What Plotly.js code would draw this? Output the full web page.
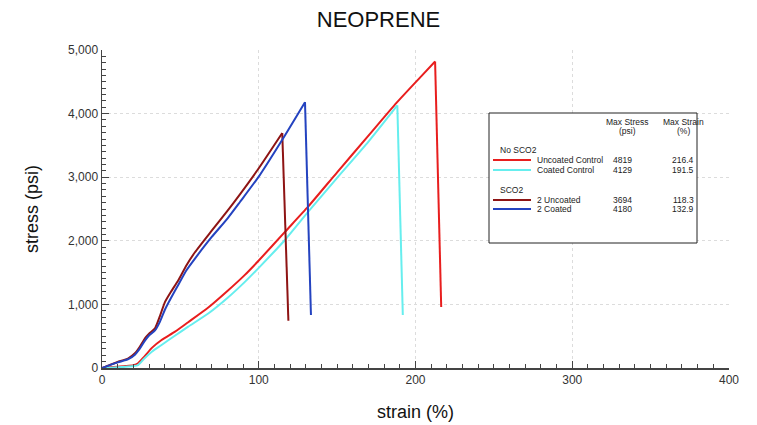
<!DOCTYPE html>
<html><head><meta charset="utf-8">
<script src="https://cdn.plot.ly/plotly-3.0.1.min.js"></script>
<style>html,body{margin:0;padding:0;background:#fff}#chart{width:757px;height:425px}</style>
</head><body><div id="chart"></div>
<script>
// Data
const seriesNames = ["Uncoated Control", "Coated Control", "2 Uncoated", "2 Coated"];
const groupNames = ["No SCO2", "SCO2"];
const maxStress = [4819, 4129, 3694, 4180];
const maxStrain = ["216.4", "191.5", "118.3", "132.9"];

const uncoatedControlStrain = [0, 5, 10, 15, 20, 23, 27, 32, 38, 46.6, 55, 67.8, 80, 91, 100, 116.7, 131.6, 150, 170, 188, 203, 212.5, 216.4];
const uncoatedControlStress = [0, 10, 20, 30, 45, 74, 180, 320, 440, 571, 720, 950, 1210, 1460, 1690, 2140, 2540, 3077, 3653, 4172, 4570, 4819, 960];

const coatedControlStrain = [0, 5, 10, 15, 20, 23, 27, 32, 38, 46, 55, 68, 80, 91, 100, 116.7, 131.6, 150, 170, 188.4, 191.9];
const coatedControlStress = [0, 5, 10, 18, 30, 47, 150, 260, 361, 500, 650, 860, 1100, 1350, 1575, 2013, 2458, 2990, 3560, 4129, 833];

const uncoated2Strain = [0, 5, 10, 16.8, 21, 24, 27.4, 30, 33.8, 37, 40.2, 44, 48.7, 54, 59.3, 70, 80, 88, 100, 115, 118.9];
const uncoated2Stress = [0, 50, 95, 152, 231, 330, 467, 540, 624, 820, 1040, 1200, 1380, 1620, 1820, 2160, 2470, 2730, 3140, 3694, 744];

const coated2Strain = [0, 5, 10, 16.8, 21, 24, 27.4, 30, 33.8, 37, 40.2, 44, 48.7, 54, 59.3, 70, 80, 88, 100, 115, 129.5, 133.3];
const coated2Stress = [0, 45, 88, 140, 210, 300, 430, 510, 590, 730, 920, 1100, 1310, 1540, 1720, 2060, 2350, 2610, 3010, 3590, 4180, 833];

const colors = ["#e81e1e", "#66eeee", "#8e1414", "#2443c0"];
const xs = [uncoatedControlStrain, coatedControlStrain, uncoated2Strain, coated2Strain];
const ys = [uncoatedControlStress, coatedControlStress, uncoated2Stress, coated2Stress];

const traces = [];
xs.forEach((x, i) => {
  const y = ys[i];
  const n = x.length;
  // rising part (smooth) up to the peak
  traces.push({x: x.slice(0, n - 1), y: y.slice(0, n - 1), type: "scatter", mode: "lines", name: seriesNames[i],
    line: {color: colors[i], width: 2, shape: "spline", smoothing: 0.6}, showlegend: false});
  // break: peak to final point
  traces.push({x: x.slice(n - 2), y: y.slice(n - 2), type: "scatter", mode: "lines", name: seriesNames[i],
    line: {color: colors[i], width: 2}, showlegend: false});
});

// custom table legend (paper coordinates)
const X0 = 102, Y0 = 368, W = 627, H = 318;
const px = v => (v - X0) / W;
const py = v => (Y0 - v) / H;
const font = {family: "Liberation Sans, Arial, sans-serif", size: 8.5, color: "#222"};
const shapes = [{type: "rect", xref: "paper", yref: "paper", x0: px(489), x1: px(697), y0: py(243), y1: py(113),
  line: {color: "#222", width: 1}, fillcolor: "#fff", layer: "above"}];
const annotations = [];
const ann = (x, y, text, xanchor) => annotations.push({xref: "paper", yref: "paper", x: px(x), y: py(y), text: text,
  showarrow: false, xanchor: xanchor, yanchor: "middle", font: font});
ann(627, 122, "Max Stress", "center");
ann(627, 131, "(psi)", "center");
ann(683, 122, "Max Strain", "center");
ann(683, 131, "(%)", "center");
ann(498, 150, groupNames[0], "left");
ann(498, 190, groupNames[1], "left");
const rowY = [160, 170, 200, 209];
rowY.forEach((y, i) => {
  shapes.push({type: "line", xref: "paper", yref: "paper", x0: px(493), x1: px(531), y0: py(y), y1: py(y),
    line: {color: colors[i], width: 2}});
  ann(535, y, seriesNames[i], "left");
  ann(622, y, String(maxStress[i]), "center");
  ann(683, y, maxStrain[i], "center");
});

const layout = {
  width: 757, height: 425,
  margin: {l: 102, r: 28, t: 50, b: 57},
  paper_bgcolor: "#fff", plot_bgcolor: "#fff",
  font: {family: "Liberation Sans, Arial, sans-serif", color: "#222"},
  title: {text: "NEOPRENE", x: 0.5, xanchor: "center", y: 0.955, yanchor: "middle",
    font: {size: 22, color: "#111", family: "Liberation Sans, Arial, sans-serif"}},
  xaxis: {range: [0, 400], tickvals: [0, 100, 200, 300, 400], ticks: "inside", ticklen: 7, tickcolor: "#444",
    showline: true, linecolor: "#444", linewidth: 1.5, zeroline: false,
    showgrid: true, gridcolor: "#dcdcdc", griddash: "dot", gridwidth: 1,
    minor: {dtick: 10, ticks: "inside", ticklen: 4, tickcolor: "#444", showgrid: false},
    tickfont: {size: 12, color: "#333"},
    title: {text: "strain (%)", font: {size: 18, color: "#111"}, standoff: 19}},
  yaxis: {range: [0, 5000], tickvals: [0, 1000, 2000, 3000, 4000, 5000], tickformat: ",d", ticks: "inside", ticklen: 7, tickcolor: "#444",
    showline: true, linecolor: "#444", linewidth: 1.5, zeroline: false,
    showgrid: true, gridcolor: "#dcdcdc", griddash: "dot", gridwidth: 1,
    minor: {dtick: 100, ticks: "inside", ticklen: 4, tickcolor: "#444", showgrid: false},
    tickfont: {size: 12, color: "#333"},
    title: {text: "stress (psi)", font: {size: 18, color: "#111"}, standoff: 25}},
  shapes: shapes, annotations: annotations, showlegend: false
};
Plotly.newPlot("chart", traces, layout, {displayModeBar: false, staticPlot: true});
</script></body></html>
